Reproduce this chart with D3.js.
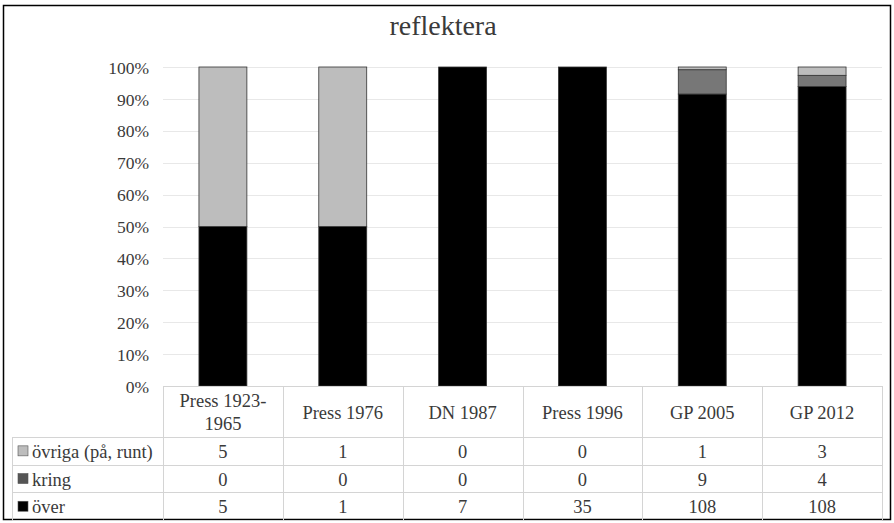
<!DOCTYPE html>
<html>
<head>
<meta charset="utf-8">
<script src="https://cdn.jsdelivr.net/npm/d3@7"></script>
<style>
  html, body { margin: 0; padding: 0; background: #fff; }
  svg { display: block; }
</style>
</head>
<body>
<svg id="chart" width="894" height="523"></svg>
<script>
// Categories and counts per series
const categories = ["Press 1923-1965", "Press 1976", "DN 1987", "Press 1996", "GP 2005", "GP 2012"];
const categoryLines = [["Press 1923-", "1965"], ["Press 1976"], ["DN 1987"], ["Press 1996"], ["GP 2005"], ["GP 2012"]];
const overValues = [5, 1, 7, 35, 108, 108];
const kringValues = [0, 0, 0, 0, 9, 4];
const ovrigaValues = [5, 1, 0, 0, 1, 3];
const yTicks = [0, 0.1, 0.2, 0.3, 0.4, 0.5, 0.6, 0.7, 0.8, 0.9, 1];

const colors = { "över": "#000000", "kring": "#777777", "övriga (på, runt)": "#bdbdbd" };
const legendColors = { "över": "#000000", "kring": "#555555", "övriga (på, runt)": "#bdbdbd" };

const FONT = "'Liberation Serif', 'Times New Roman', Times, serif";
const TEXT = "#3a3a3a";

const svg = d3.select("#chart").style("font-family", FONT);

// outer frame
svg.append("rect").attr("x", 3.5).attr("y", 5.5).attr("width", 887).attr("height", 514)
  .attr("fill", "#fff").attr("stroke", "#000").attr("stroke-width", 1.5);

// title
svg.append("text").attr("x", 443).attr("y", 35).attr("text-anchor", "middle")
  .style("font-family", FONT).style("font-size", "28px").attr("fill", TEXT).text("reflektera");

const plotLeft = 163, plotRight = 882, plotTop = 67, plotBottom = 386;

const x = d3.scaleBand().domain(categories).range([plotLeft, plotRight]).paddingInner(0).paddingOuter(0);
const y = d3.scaleLinear().domain([0, 1]).range([plotBottom, plotTop]);

// gridlines
svg.append("g").selectAll("line").data(yTicks.filter(d => d > 0)).join("line")
  .attr("x1", plotLeft).attr("x2", plotRight)
  .attr("y1", d => Math.round(y(d)) + 0.5).attr("y2", d => Math.round(y(d)) + 0.5)
  .attr("stroke", "#e8e8e8").attr("stroke-width", 1);

// y axis labels
const yAxis = d3.axisLeft(y).tickValues(yTicks).tickFormat(d3.format(".0%")).tickSize(0).tickPadding(0);
const yg = svg.append("g").attr("transform", `translate(${plotLeft - 14},0)`).call(yAxis)
  .attr("font-family", null).attr("font-size", null);
yg.select(".domain").remove();
yg.selectAll("text").style("font-family", FONT).style("font-size", "17.5px").attr("fill", TEXT)
  .attr("dy", "0.35em");

// stacked data
const rows = categories.map((c, i) => ({ cat: c, "över": overValues[i], "kring": kringValues[i], "övriga (på, runt)": ovrigaValues[i] }));
const stackOrder = ["över", "kring", "övriga (på, runt)"];
const stacked = d3.stack().keys(stackOrder).offset(d3.stackOffsetExpand)(rows);

const barW = x.bandwidth() * 0.4;
const layers = svg.append("g").selectAll("g").data(stacked).join("g")
  .attr("fill", d => colors[d.key]);
layers.selectAll("rect").data(d => d.filter(s => s[1] - s[0] > 0)).join("rect")
  .attr("x", d => x(d.data.cat) + (x.bandwidth() - barW) / 2)
  .attr("y", d => y(d[1]))
  .attr("width", barW)
  .attr("height", d => y(d[0]) - y(d[1]))
  .attr("stroke", "#333").attr("stroke-width", 0.8);

// data table
const tableLeft = 12;
const headerBottom = 437;
const rowH = 27.7;
const tableRows = [
  { name: "övriga (på, runt)", values: ovrigaValues },
  { name: "kring", values: kringValues },
  { name: "över", values: overValues }
];
const tableBottom = headerBottom + rowH * tableRows.length;
const gridColor = "#d4d4d4";
const tg = svg.append("g");

tg.append("line").attr("x1", plotLeft).attr("x2", plotRight).attr("y1", plotBottom + 0.5).attr("y2", plotBottom + 0.5)
  .attr("stroke", gridColor);
d3.range(tableRows.length + 1).forEach(i => {
  const yy = Math.round(headerBottom + i * rowH) + 0.5;
  tg.append("line").attr("x1", tableLeft).attr("x2", plotRight).attr("y1", yy).attr("y2", yy)
    .attr("stroke", gridColor);
});
const colEdges = categories.map(c => x(c)).concat([plotRight]);
colEdges.forEach(xx => {
  tg.append("line").attr("x1", Math.round(xx) + 0.5).attr("x2", Math.round(xx) + 0.5)
    .attr("y1", plotBottom).attr("y2", tableBottom).attr("stroke", gridColor);
});
tg.append("line").attr("x1", tableLeft + 0.5).attr("x2", tableLeft + 0.5)
  .attr("y1", headerBottom).attr("y2", tableBottom).attr("stroke", gridColor);

const FS = "18.5px";
// header labels
categories.forEach((c, i) => {
  const lines = categoryLines[i];
  const cx = x(c) + x.bandwidth() / 2;
  const midY = (plotBottom + headerBottom) / 2;
  const lh = 23;
  const t = tg.append("text").attr("text-anchor", "middle")
    .style("font-family", FONT).style("font-size", FS).attr("fill", TEXT);
  lines.forEach((ln, j) => {
    t.append("tspan").attr("x", cx)
      .attr("y", midY + (j - (lines.length - 1) / 2) * lh + 7).text(ln);
  });
});

// rows
tableRows.forEach((r, i) => {
  const cy = headerBottom + i * rowH + rowH / 2;
  tg.append("rect").attr("x", 18).attr("y", cy - 5).attr("width", 10).attr("height", 10)
    .attr("fill", legendColors[r.name]).attr("stroke", "#555").attr("stroke-width", 0.6);
  tg.append("text").attr("x", 32).attr("y", cy + 7)
    .style("font-family", FONT).style("font-size", FS).attr("fill", TEXT).text(r.name);
  r.values.forEach((v, j) => {
    tg.append("text").attr("x", x(categories[j]) + x.bandwidth() / 2).attr("y", cy + 7)
      .attr("text-anchor", "middle")
      .style("font-family", FONT).style("font-size", FS).attr("fill", TEXT).text(v);
  });
});
</script>
</body>
</html>
